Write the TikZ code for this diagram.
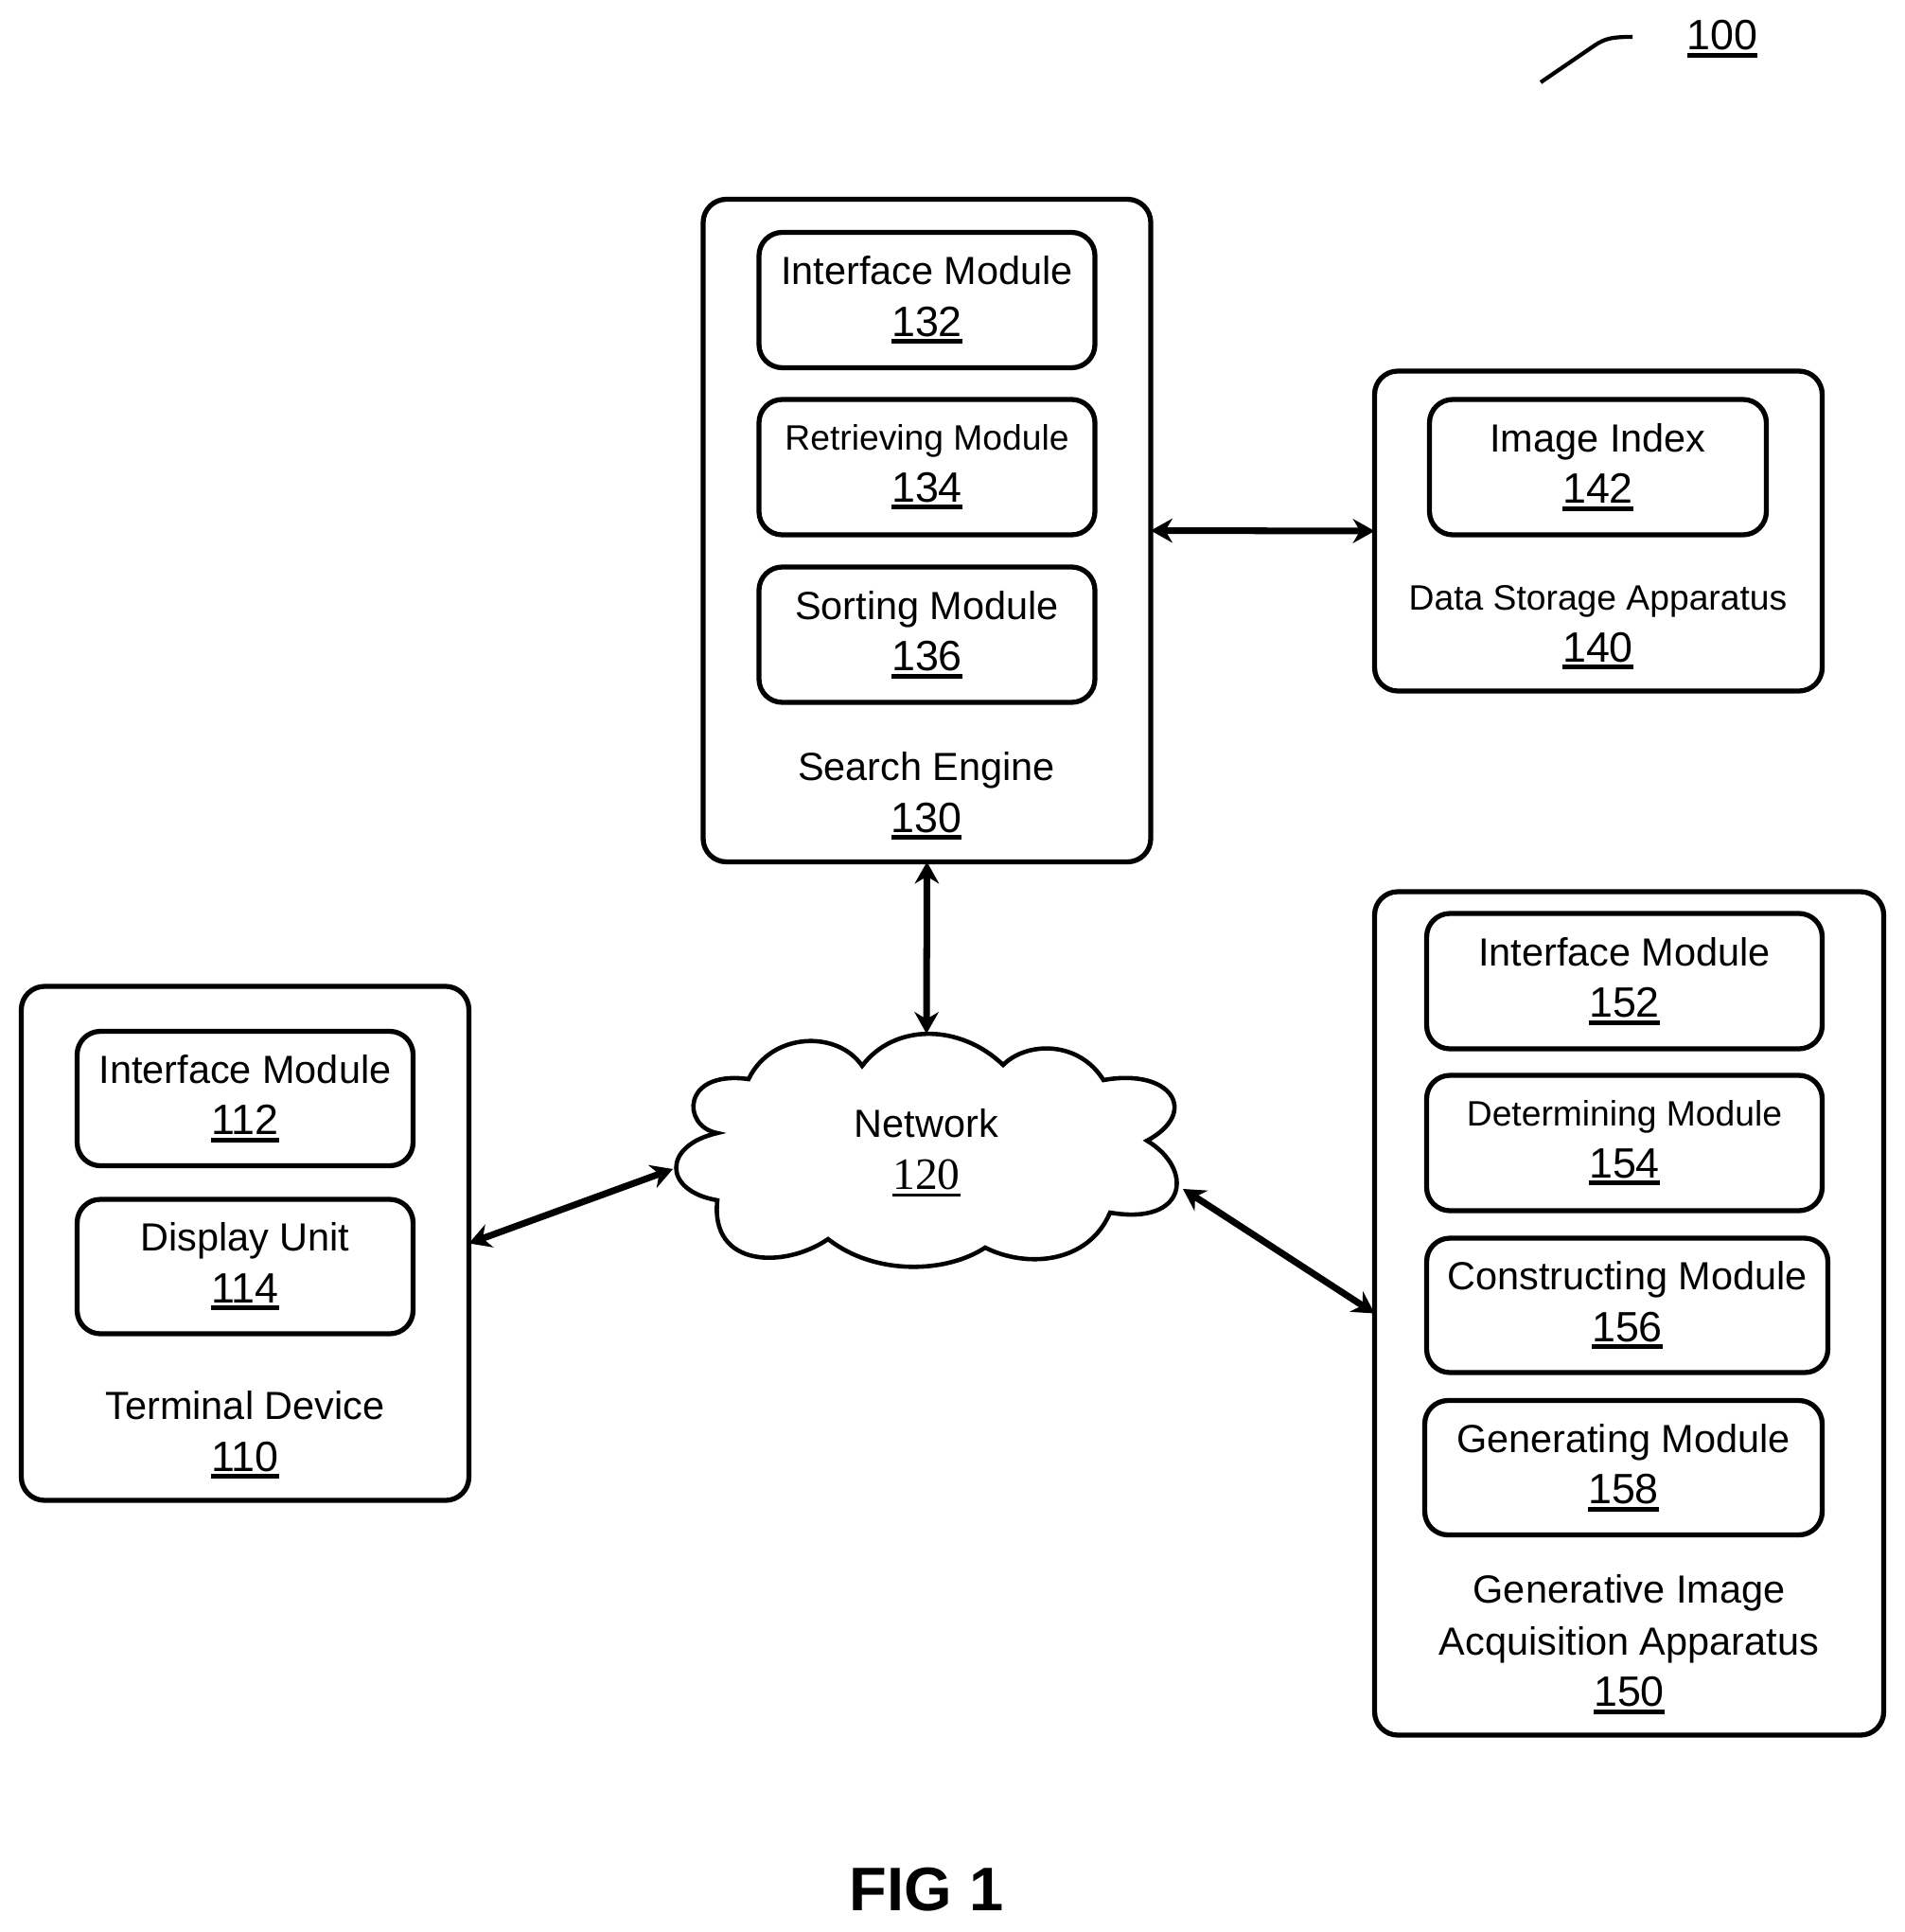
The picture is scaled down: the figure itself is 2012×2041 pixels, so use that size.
\documentclass[tikz,border=0pt]{standalone}
\usepackage{fontspec}
\setmainfont{Liberation Sans}
\newfontfamily\serifnum{Liberation Serif}
\usetikzlibrary{arrows.meta}
\newcommand{\refnum}[2][2.8pt]{\leavevmode\setbox0=\hbox{\fontsize{25.5}{31}\selectfont #2}\rlap{\rule[-4.6pt]{\wd0}{#1}}\box0}
\newcommand{\smalltxt}[1]{{\fontsize{21.2}{31}\selectfont #1}}
\tikzset{
    blk/.style 2 args={draw=black,line width=3pt,rounded corners=14pt,align=center,inner sep=0pt,outer sep=0pt,
        minimum width=#1*0.02cm,minimum height=#2*0.02cm,font=\fontsize{23.6}{31}\selectfont},
    lbl/.style={align=center,inner sep=0pt,font=\fontsize{23.6}{31}\selectfont},
    biarrow/.style={line width=4pt,{Stealth[length=13pt,width=14.5pt]}-{Stealth[length=13pt,width=14.5pt]}}
}
\begin{document}
\begin{tikzpicture}[x=0.02cm,y=-0.02cm]
    \useasboundingbox (0,0) rectangle (2012,2041);

    \node[blk={473}{700}] (search) at (979.5,560.5) {};
    \node[blk={355}{143}] (m132) at (979.5,317) {Interface Module\\\refnum{132}};
    \node[blk={355}{143}] (m134) at (979.5,493.5) {\smalltxt{Retrieving Module}\\\refnum{134}};
    \node[blk={355}{143}] (m136) at (979.5,670.5) {Sorting Module\\\refnum{136}};
    \node[lbl] (l130) at (979,841) {Search Engine\\\refnum{130}};

    \node[blk={473}{338}] (storage) at (1689,561) {};
    \node[blk={356}{143}] (m142) at (1688.5,493.5) {Image Index\\\refnum{142}};
    \node[lbl] (l140) at (1688.5,663) {\smalltxt{Data Storage Apparatus}\\\refnum{140}};

    \node[blk={538}{891}] (acquire) at (1721.5,1387.5) {};
    \node[blk={418}{143}] (m152) at (1716.5,1036.5) {Interface Module\\\refnum{152}};
    \node[blk={418}{143}] (m154) at (1716.5,1207.5) {\smalltxt{Determining Module}\\\refnum{154}};
    \node[blk={424}{142}] (m156) at (1719.5,1379) {Constructing Module\\\refnum{156}};
    \node[blk={420}{142}] (m158) at (1715.5,1550.5) {Generating Module\\\refnum{158}};
    \node[lbl] (l150) at (1721.5,1737) {Generative Image\\Acquisition Apparatus\\\refnum{150}};

    \node[blk={473}{543}] (terminal) at (259,1313.5) {};
    \node[blk={355}{142}] (m112) at (259,1160.5) {Interface Module\\\refnum{112}};
    \node[blk={355}{142}] (m114) at (259,1338) {Display Unit\\\refnum{114}};
    \node[lbl] (l110) at (259,1516) {Terminal Device\\\refnum{110}};

    \draw[line width=2.6pt] (758,1197)
        .. controls (720,1190) and (720,1130) .. (791,1140)
        .. controls (815,1090) and (885,1088) .. (911,1126)
        .. controls (945,1081) and (1014,1081) .. (1060,1125)
        .. controls (1085,1100) and (1140,1099) .. (1166,1141)
        .. controls (1238,1128) and (1268,1175) .. (1212,1205)
        .. controls (1262,1235) and (1255,1295) .. (1173,1281)
        .. controls (1150,1335) and (1085,1340) .. (1041,1318)
        .. controls (1000,1345) and (925,1348) .. (875,1309)
        .. controls (830,1340) and (750,1340) .. (758,1268)
        .. controls (700,1258) and (700,1210) .. cycle;
    \node[lbl] (network) at (979,1218) {Network\\\refnum[1.8pt]{\serifnum\fontsize{27}{31}\selectfont 120}};
    \coordinate (nettop) at (979,1092);
    \coordinate (netleft) at (711,1235);
    \coordinate (netright) at (1250,1256);

    \draw[biarrow] (search.east) -- (storage.west);
    \draw[biarrow] (search.south) -- (nettop);
    \draw[biarrow] (terminal.east) -- (netleft);
    \draw[biarrow] (netright) -- (acquire.west);

    \node[lbl] (fig100) at (1820,41) {\refnum{100}};
    \coordinate (leada) at (1628,87);
    \coordinate (leadb) at (1725,39);
    \draw[line width=2.4pt] (leada) -- (1685,48) .. controls (1697,40) and (1705,39) .. (leadb);
    \node[lbl,font=\fontsize{37}{44}\selectfont\bfseries] (figname) at (979,1996) {FIG 1};
\end{tikzpicture}
\end{document}
